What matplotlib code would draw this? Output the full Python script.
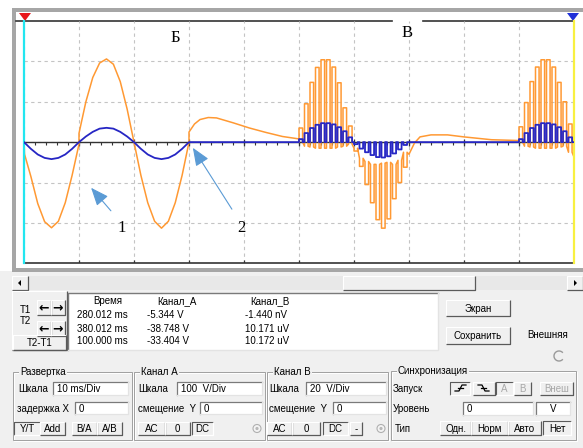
import numpy as np
import matplotlib
matplotlib.use("Agg")
import matplotlib.pyplot as plt
from matplotlib.patches import Rectangle, Polygon, Arc, Circle

# ---- oscillogram data, time in ms, channel A / B in volts ----
time_a = [0.0, 0.1, 1.25, 2.5, 3.75, 5.0, 6.25, 7.5, 8.75, 10.0, 10.0, 11.25, 12.5,
          13.75, 15.0, 16.25, 17.5, 18.75, 20.0, 21.25, 22.5, 23.75, 25.0, 26.25,
          27.5, 28.75, 30.0, 30.0, 31.0, 32.0, 33.5, 35.0, 38.0, 41.0, 44.0, 47.0, 50.0]
chan_a = [0, -30, -85, -152, -197, -212, -196, -150, -82, -5, 22, 100, 160,
          196, 206, 193, 150, 82, 0, -82, -150, -196, -213, -196,
          -150, -82, 0, 25, 45, 56, 61, 60, 48, 35, 24, 14, 8]

time_b = [0.0, 1.25, 2.5, 3.75, 5.0, 6.25, 7.5, 8.75, 10.0, 11.25, 12.5, 13.75, 15.0,
          16.25, 17.5, 18.75, 20.0, 21.25, 22.5, 23.75, 25.0, 26.25, 27.5, 28.75, 30.0, 50.0]
chan_b = [0, -3.3, -6.1, -7.8, -8.4, -7.8, -6.1, -3.3, 0, 2.8, 5.1, 6.7, 7.1,
          6.7, 5.1, 2.8, 0, -3.3, -6.1, -7.8, -8.4, -7.8, -6.1, -3.3, 0, 0]

# orange tail between the two pulse bursts
time_mid = [70.0, 71.0, 72.0, 74.0, 77.0, 80.0, 85.0, 90.0]
chan_a_mid = [-30, -2, 13, 18, 18, 13, 6, 4]

# chopped (pulsed) sections: one pulse per ms
pulse_t = [50, 51, 52, 53, 54, 55, 56, 57, 58, 59,
           60, 61, 62, 63, 64, 65, 66, 67, 68, 69,
           90, 91, 92, 93, 94, 95, 96, 97, 98, 99]
pulse_a_on = [35, 95, 148, 185, 204, 204, 186, 147, 85, 40,
              -22, -60, -105, -150, -192, -213, -190, -140, -100, -62,
              38, 98, 150, 186, 204, 204, 186, 148, 100, 45]
pulse_a_off = [0, -10, -12, -15, -15, -15, -15, -12, -10, -5,
               -15, -40, -48, -55, -55, -52, -50, -55, -45, -25,
               0, -10, -12, -15, -15, -15, -15, -12, -10, -25]
pulse_b_on = [1.5, 4.5, 7.0, 8.6, 9.4, 9.4, 8.8, 7.4, 5.4, 2.4,
              -1.0, -3.2, -5.0, -6.4, -7.4, -7.6, -7.0, -5.6, -3.6, -1.4,
              1.5, 4.5, 7.0, 8.6, 9.4, 9.4, 8.8, 7.4, 5.4, 2.4]
end_a = -37

# readout table
hdr = ['Время', 'Канал_А', 'Канал_В']
row_time = ['280.012 ms', '380.012 ms', '100.000 ms']
row_a = ['-5.344 V', '-38.748 V', '-33.404 V']
row_b = ['-1.440 nV', '10.171 uV', '10.172 uV']

ORANGE = '#ff9933'
BLUE = '#2626c4'
GUI = ['Liberation Sans', 'DejaVu Sans']
BG = '#f0f0f0'


def chopped(idx, on, off, width=0.65):
    xs, ys = [], []
    for i in idx:
        t0 = pulse_t[i]
        xs += [t0, t0, t0 + width, t0 + width]
        ys += [off[i], on[i], on[i], off[i]]
    return xs, ys


fig = plt.figure(figsize=(5.83, 4.48), dpi=100)
fig.patch.set_facecolor('white')
ui = fig.add_axes([0, 0, 1, 1])
ui.set_xlim(0, 583)
ui.set_ylim(448, 0)
ui.axis('off')


def txt(x, y, s, size=7, ha='left', color='black', **kw):
    ui.text(x, y, s, fontsize=size, ha=ha, va='center', color=color, family=GUI, **kw)


def bevel(x0, y0, x1, y1, pressed=False, face=BG):
    ui.add_patch(Rectangle((x0, y0), x1 - x0, y1 - y0, fc=face, ec='none'))
    lt, dk = ('#ffffff', '#5a5a5a') if not pressed else ('#5a5a5a', '#ffffff')
    ui.plot([x0, x0, x1], [y1, y0, y0], color=lt, lw=0.8, solid_capstyle='butt')
    ui.plot([x0, x1, x1], [y1, y1, y0], color=dk, lw=0.9, solid_capstyle='butt')


def button(x0, y0, x1, y1, s, pressed=False, color='black'):
    bevel(x0, y0, x1, y1, pressed)
    txt((x0 + x1) / 2, (y0 + y1) / 2 + 0.5, s, ha='center', color=color)


def entry(x0, y0, x1, y1, s, ha='left'):
    ui.add_patch(Rectangle((x0, y0), x1 - x0, y1 - y0, fc='white', ec='none'))
    ui.plot([x0, x0, x1], [y1, y0, y0], color='#7a7a7a', lw=0.9)
    ui.plot([x0, x1, x1], [y1, y1, y0], color='#e3e3e3', lw=0.9)
    if ha == 'left':
        txt(x0 + 4, (y0 + y1) / 2 + 0.5, s)
    else:
        txt((x0 + x1) / 2, (y0 + y1) / 2 + 0.5, s, ha='center')


def group(x0, y0, x1, y1, title):
    ui.add_patch(Rectangle((x0 + 1, y0 + 1), x1 - x0, y1 - y0, fc='none', ec='white', lw=0.7))
    ui.add_patch(Rectangle((x0, y0), x1 - x0, y1 - y0, fc='none', ec='#a0a0a0', lw=0.7))
    ui.text(x0 + 7, y0, title, fontsize=7, va='center', ha='left', family=GUI,
            bbox=dict(fc=BG, ec='none', pad=0.6))


# ---- scope frame ----
ui.add_patch(Rectangle((0, 271), 583, 177, fc=BG, ec='none'))
ui.add_patch(Rectangle((12, 8), 575, 264, fc='#a6a6a6', ec='none'))
ui.add_patch(Rectangle((16, 12), 570, 256, fc='white', ec='none'))
ui.plot([16, 392], [21, 21], color='#333333', lw=1.2)
ui.plot([423, 573], [21, 21], color='#333333', lw=1.2)
ui.add_patch(Polygon([(19, 13), (31, 13), (25, 21)], fc='#e8161a', ec='none', zorder=5))
ui.add_patch(Polygon([(567, 13), (579, 13), (573, 21)], fc='#2030d8', ec='none', zorder=5))

# ---- scope screen ----
ax = fig.add_axes([24 / 583, (448 - 263.3) / 448, 550 / 583, 242.3 / 448])
ax.patch.set_alpha(0)
ax.set_xlim(0, 100)
ax.set_ylim(-300, 300)
ax.set_xticks(np.arange(0, 101, 10))
ax.set_yticks([-200, -100, 0, 100, 200])
ax.grid(True, color='#c4c4c4', ls=(0, (3, 3)), lw=0.8)
ax.tick_params(length=0, labelbottom=False, labelleft=False)
for side in ['top', 'left', 'right']:
    ax.spines[side].set_visible(False)
ax.spines['bottom'].set_color('#333333')
ax.spines['bottom'].set_linewidth(1.2)

ax.axhline(0, color='#333333', lw=1.0)
ax.vlines(np.arange(2, 100, 2), -8, 0, color='#333333', lw=0.8)
ax.vlines(np.arange(10, 100, 10), -9, 9, color='#333333', lw=0.9)
ax.vlines(np.arange(10, 100, 10), -300, -292, color='#333333', lw=0.9)

xs1, ys1 = chopped(range(0, 20), pulse_a_on, pulse_a_off)
xs2, ys2 = chopped(range(20, 30), pulse_a_on, pulse_a_off)
ta = time_a + xs1 + time_mid + xs2 + [100]
va = chan_a + ys1 + chan_a_mid + ys2 + [end_a]
ax.plot(ta, va, color=ORANGE, lw=1.1)

ax.axvline(0, color='#22e6f0', lw=1.6, clip_on=False, zorder=6)
ax.axvline(100, color='#f8f040', lw=1.6, clip_on=False, zorder=6)

axb = ax.twinx()
axb.patch.set_alpha(0)
axb.set_ylim(-60, 60)
axb.axis('off')
zeros = [0] * len(pulse_t)
bx1, by1 = chopped(range(0, 20), pulse_b_on, zeros)
bx2, by2 = chopped(range(20, 30), pulse_b_on, zeros)
tb = time_b + bx1 + [70, 90] + bx2 + [100]
vb = chan_b + by1 + [0, 0] + by2 + [0]
axb.plot(tb, vb, color=BLUE, lw=1.3)

# labels and arrows
ax.text(27.6, 257, 'Б', fontsize=12, family='Liberation Serif', ha='center', va='center')
ax.text(69.6, 270, 'В', fontsize=12, family='Liberation Serif', ha='center', va='center')
ax.text(17.8, -212, '1', fontsize=12, family='Liberation Serif', ha='center', va='center')
ax.text(39.6, -212, '2', fontsize=12, family='Liberation Serif', ha='center', va='center')
aprops = dict(arrowstyle='-|>,head_length=1.1,head_width=0.45', color='#5b9bd5', lw=0.8,
              shrinkA=0, shrinkB=0)
ax.annotate('', xy=(12.2, -113), xytext=(15.8, -170), arrowprops=aprops, zorder=7)
ax.annotate('', xy=(30.7, -14), xytext=(37.8, -166), arrowprops=aprops, zorder=7)

# ---- scrollbar ----
ui.add_patch(Rectangle((12, 276), 571, 14, fc='#e8e8e8', ec='none'))
bevel(12, 276, 28, 290)
ui.add_patch(Polygon([(18, 283), (21, 280), (21, 286)], fc='black', ec='none'))
bevel(343, 276, 475, 290)
bevel(567, 276, 583, 290)
ui.add_patch(Polygon([(577, 283), (574, 280), (574, 286)], fc='black', ec='none'))

# ---- cursor block ----
bevel(12, 291, 67, 350)
txt(20, 310, 'T1')
txt(20, 321, 'T2')
for yy in (300, 321):
    bevel(37, yy, 51, yy + 15)
    bevel(51, yy, 65, yy + 15)
    ui.text(44, yy + 7.5, '\u2190', fontsize=9, ha='center', va='center',
            family='DejaVu Sans', weight='bold')
    ui.text(58, yy + 7.5, '\u2192', fontsize=9, ha='center', va='center',
            family='DejaVu Sans', weight='bold')
button(13, 335, 66, 350, 'T2-T1')

ui.add_patch(Rectangle((68, 293), 370, 57, fc='white', ec='none'))
ui.plot([68, 68, 438], [350, 293, 293], color='#7a7a7a', lw=1.0)
ui.plot([68, 438, 438], [350, 350, 293], color='#e3e3e3', lw=1.0)
for xc, h in zip([108, 177, 270], hdr):
    txt(xc, 301, h, ha='center')
for yy, a, b, c in zip([315, 328.5, 341.5], row_time, row_a, row_b):
    txt(77, yy, a)
    txt(147, yy, b)
    txt(245, yy, c)

button(446, 300, 510, 316, 'Экран')
button(446, 327, 510, 344, 'Сохранить')
txt(548, 335, 'Внешняя', ha='center')
ui.add_patch(Arc((559, 356), 10, 10, theta1=40, theta2=320, color='#9a9a9a', lw=1.0))

# ---- Развертка ----
group(13, 372, 132, 440, 'Развертка')
txt(18, 388.5, 'Шкала')
entry(53, 382, 128, 395, '10 ms/Div')
txt(17, 408.5, 'задержка X')
entry(75, 402, 128, 414, '0')
button(14, 422, 40, 435, 'Y/T', pressed=True)
button(40, 422, 65, 435, 'Add')
button(72, 422, 97, 435, 'B/A')
button(97, 422, 122, 435, 'A/B')

# ---- Канал A ----
group(134, 372, 265, 440, 'Канал А')
txt(138, 388.5, 'Шкала')
entry(177, 382, 262, 395, '100  V/Div')
txt(138, 408.5, 'смещение  Y')
entry(200, 402, 262, 414, '0')
button(138, 422, 165, 435, 'AC')
button(165, 422, 190, 435, '0')
button(192, 422, 213, 435, 'DC', pressed=True)
ui.add_patch(Circle((257, 428.5), 4, fc='#f4f4f4', ec='#b0b0b0', lw=0.8))
ui.add_patch(Circle((257, 428.5), 1.6, fc='#b8b8b8', ec='none'))

# ---- Канал B ----
group(267, 372, 388, 440, 'Канал В')
txt(269, 388.5, 'Шкала')
entry(306, 382, 386, 395, '20  V/Div')
txt(269, 408.5, 'смещение  Y')
entry(333, 402, 386, 414, '0')
button(267, 422, 292, 435, 'AC')
button(292, 422, 320, 435, '0')
button(323, 422, 348, 435, 'DC', pressed=True)
button(350, 422, 362, 435, '-')
ui.add_patch(Circle((381, 428.5), 4, fc='#f4f4f4', ec='#b0b0b0', lw=0.8))
ui.add_patch(Circle((381, 428.5), 1.6, fc='#b8b8b8', ec='none'))

# ---- Синхронизация ----
group(391, 371, 576, 440, 'Синхронизация')
txt(393, 388.5, 'Запуск')
bevel(450, 382, 470, 395, pressed=True)
ui.plot([455, 459, 462, 466], [391, 391, 385, 385], color='black', lw=0.9)
ui.plot([458, 463], [388, 388], color='black', lw=0.9)
bevel(473, 382, 495, 395)
ui.plot([478, 482, 485, 489], [385, 385, 391, 391], color='black', lw=0.9)
ui.plot([481, 486], [388, 388], color='black', lw=0.9)
bevel(496, 382, 513, 395, pressed=True)
txt(504.5, 389, 'A', ha='center', color='#a8a8a8')
button(514, 382, 531, 395, 'B', color='#a8a8a8')
button(540, 382, 573, 395, 'Внеш', color='#a8a8a8')
txt(393, 408.5, 'Уровень')
entry(463, 402, 533, 415, '0')
entry(536, 402, 570, 415, 'V', ha='center')
txt(395, 428.5, 'Тип')
button(440, 421, 471, 435, 'Одн.')
button(471, 421, 508, 435, 'Норм')
button(508, 421, 541, 435, 'Авто')
button(543, 421, 571, 435, 'Нет', pressed=True)

fig.savefig('out.png', dpi=100, facecolor=fig.get_facecolor())
